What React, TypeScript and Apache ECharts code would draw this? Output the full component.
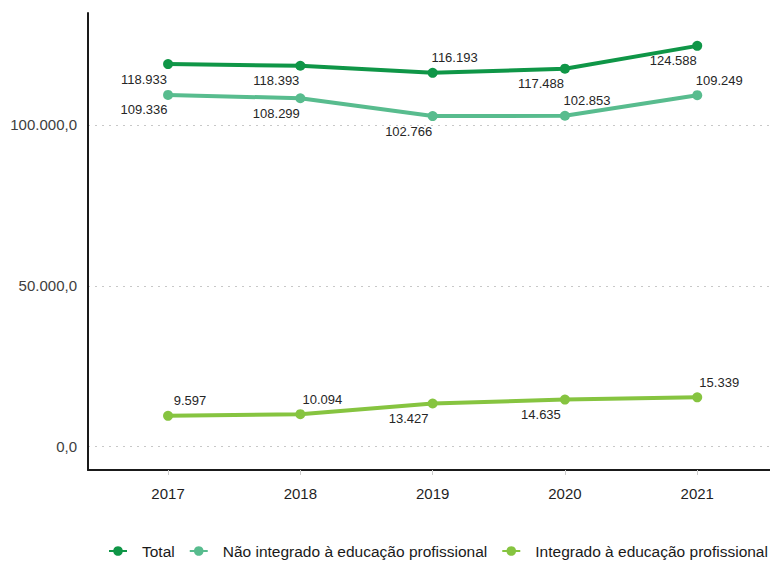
import React, { useEffect, useRef } from 'react';
import * as echarts from 'echarts';

const years = [2017, 2018, 2019, 2020, 2021];
const seriesNames = ['Total', 'Não integrado à educação profissional', 'Integrado à educação profissional'];
const total = [118933, 118393, 116193, 117488, 124588];
const naoIntegrado = [109336, 108299, 102766, 102853, 109249];
const integrado = [9597, 10094, 13427, 14635, 15339];
const yTicks = [0, 50000, 100000];
const totalLabelSide = ['below', 'below', 'above', 'below', 'below'];
const naoLabelSide = ['below', 'below', 'below', 'above', 'above'];
const intLabelSide = ['above', 'above', 'below', 'below', 'above'];

const colors = ['#0f9647', '#58bc8e', '#86c440'];

const thousands = (v: number) => Math.round(v).toString().replace(/\B(?=(\d{3})+(?!\d))/g, '.');
const axisFmt = (v: number) => thousands(v) + ',0';

function buildSeries(name: string, values: number[], sides: string[], color: string) {
  return {
    name,
    type: 'line',
    data: values.map((v, i) => ({
      value: [years[i], v],
      label: { offset: sides[i] === 'above' ? [22, -15] : [-24, 15] },
    })),
    symbol: 'circle',
    symbolSize: 10,
    lineStyle: { width: 4, color },
    itemStyle: { color },
    label: {
      show: true,
      position: 'inside',
      formatter: (p: any) => thousands(p.value[1]),
      fontFamily: 'Liberation Sans',
      fontSize: 13,
      color: '#262626',
    },
  };
}

export default function App() {
  const ref = useRef<HTMLDivElement>(null);
  useEffect(() => {
    if (!ref.current) return;
    const chart = echarts.init(ref.current, null, { renderer: 'svg' });
    chart.setOption({
      animation: false,
      backgroundColor: '#ffffff',
      color: colors,
      grid: { left: 88, right: 0, top: 13, bottom: 92, containLabel: false },
      xAxis: {
        type: 'value',
        min: 2016.395,
        max: 2021.55,
        axisLine: { show: true, onZero: false, lineStyle: { color: '#1a1a1a', width: 2 } },
        axisTick: { show: true, customValues: years, length: 5, lineStyle: { color: '#cccccc' } },
        axisLabel: {
          customValues: years,
          formatter: (v: number) => String(v),
          fontFamily: 'Liberation Sans',
          fontSize: 15,
          color: '#1f1f1f',
          margin: 16,
        },
        splitLine: { show: false },
      },
      yAxis: {
        type: 'value',
        min: -7250,
        max: 134800,
        axisLine: { show: true, onZero: false, lineStyle: { color: '#1a1a1a', width: 2 } },
        axisTick: { show: false, customValues: yTicks },
        axisLabel: {
          customValues: yTicks,
          formatter: (v: number) => axisFmt(v),
          fontFamily: 'Liberation Sans',
          fontSize: 15,
          color: '#404040',
          margin: 11,
        },
        splitLine: { show: true, lineStyle: { color: '#c8c8c8', type: [2, 5], width: 1 } },
      },
      legend: {
        top: 543,
        left: 108,
        width: 662,
        padding: 0,
        itemWidth: 18,
        itemHeight: 12,
        itemGap: 14,
        textStyle: { fontFamily: 'Liberation Sans', fontSize: 15.5, color: '#1a1a1a', padding: [0, 0, 0, 10] },
        data: seriesNames,
      },
      series: [
        buildSeries(seriesNames[0], total, totalLabelSide, colors[0]),
        buildSeries(seriesNames[1], naoIntegrado, naoLabelSide, colors[1]),
        buildSeries(seriesNames[2], integrado, intLabelSide, colors[2]),
      ],
    });
    return () => chart.dispose();
  }, []);
  return <div ref={ref} style={{ position: 'fixed', left: 0, top: 0, width: 770, height: 562 }} />;
}
